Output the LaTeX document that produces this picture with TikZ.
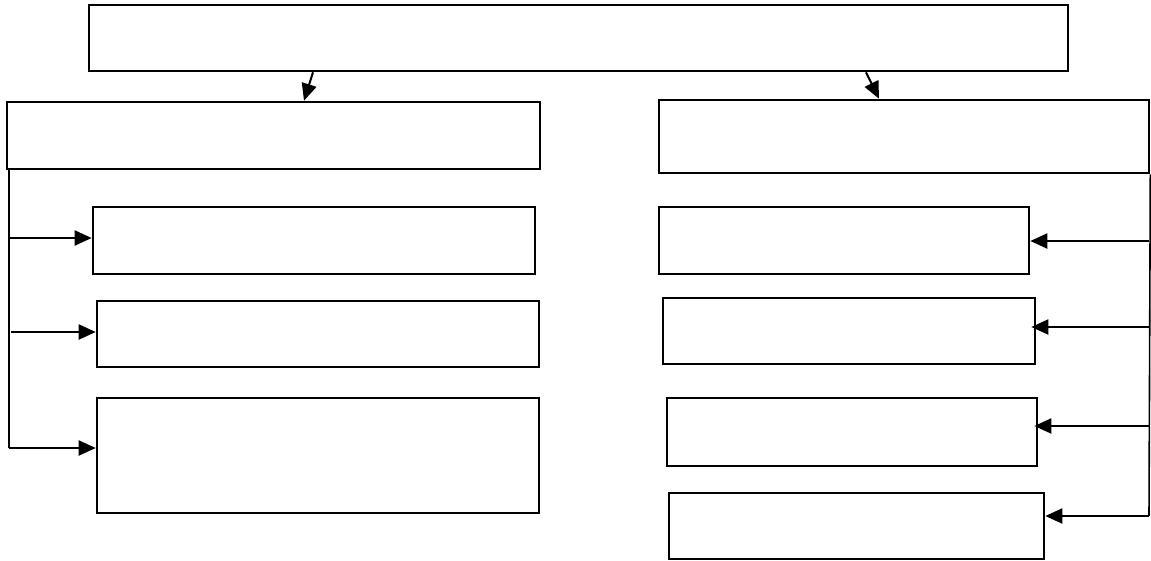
\documentclass[tikz,border=0pt]{standalone}
\usetikzlibrary{arrows.meta}
\tikzset{
  box/.style={draw, line width=2.6pt, inner sep=0pt, rectangle, fill=none},
  rail/.style={draw, line width=1.6pt},
  arr/.style={line width=2pt, -{Triangle[length=17pt,width=15pt]}}
}
\begin{document}
\begin{tikzpicture}[x=1pt,y=-1pt]
\useasboundingbox (0,0) rectangle (1151,560);
% boxes
\node[box, minimum width=979pt, minimum height=66pt] (T)  at (578.5,38) {};
\node[box, minimum width=533pt, minimum height=67pt] (L0) at (273.5,135.5) {};
\node[box, minimum width=490pt, minimum height=73pt] (R0) at (904,136.5) {};
\node[box, minimum width=442pt, minimum height=67pt] (L1) at (314,240.5) {};
\node[box, minimum width=442pt, minimum height=66pt] (L2) at (318,334) {};
\node[box, minimum width=442pt, minimum height=115pt] (L3) at (318,455.5) {};
\node[box, minimum width=370pt, minimum height=67pt] (R1) at (844,240.5) {};
\node[box, minimum width=372pt, minimum height=66pt] (R2) at (849,331) {};
\node[box, minimum width=370pt, minimum height=68pt] (R3) at (852,432) {};
\node[box, minimum width=375pt, minimum height=66pt] (R4) at (856.5,526) {};
% top arrows
\draw[arr] (313,0 |- T.south) -- (304,0 |- L0.north);
\draw[arr] (866,0 |- T.south) -- (879,0 |- R0.north);
% left rail
\coordinate (lrtop) at (9,0 |- L0.south);
\coordinate (lrbot) at (9,448);
\draw[rail] (lrtop) -- (lrbot);
\coordinate (la1) at (9,238);
\coordinate (la2) at (11,332);
\draw[arr] (la1) -- (L1.west |- la1);
\draw[arr] (la2) -- (L2.west |- la2);
\draw[arr] (lrbot) -- (L3.west |- lrbot);
% right rail
\coordinate (rrtop) at (R0.south east);
\coordinate (rrbot) at (1149,516);
\draw[rail] (rrtop) -- (rrbot);
\coordinate (ra1) at (1149,241);
\coordinate (ra2) at (1149,327);
\coordinate (ra3) at (1149,426);
\draw[arr] (ra1) -- (R1.east |- ra1);
\draw[arr] (ra2) -- ([xshift=-5pt]R2.east |- ra2);
\draw[arr] (ra3) -- ([xshift=-4pt]R3.east |- ra3);
\draw[arr] (rrbot) -- (R4.east |- rrbot);
\end{tikzpicture}
\end{document}
